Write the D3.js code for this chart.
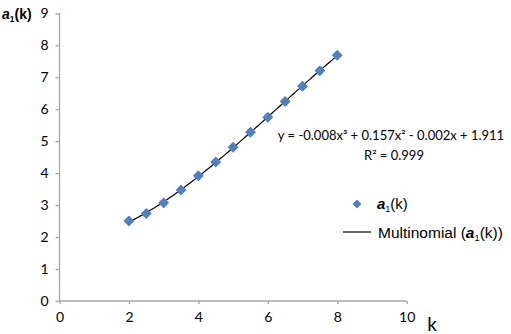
<!DOCTYPE html>
<html><head><meta charset="utf-8">
<script src="https://cdn.jsdelivr.net/npm/d3@7"></script>
<style>body{margin:0;background:#fff}svg{display:block}</style>
</head><body>
<script>
const kValues = [2, 2.5, 3, 3.5, 4, 4.5, 5, 5.5, 6, 6.5, 7, 7.5, 8];
const a1Values = [2.50, 2.74, 3.07, 3.47, 3.92, 4.35, 4.81, 5.28, 5.75, 6.24, 6.72, 7.20, 7.69];
const xTicks = [0, 2, 4, 6, 8, 10];
const yTicks = [0, 1, 2, 3, 4, 5, 6, 7, 8, 9];
const equationText = "y = -0.008x\u00B3 + 0.157x\u00B2 - 0.002x + 1.911";
const r2Text = "R\u00B2 = 0.999";

const W = 511, H = 334;
const svg = d3.select("body").append("svg").attr("width", W).attr("height", H);
const x = d3.scaleLinear().domain([0, 10]).range([59.5, 406.7]);
const y = d3.scaleLinear().domain([0, 9]).range([301, 13.3]);
const axisColor = "#a6a6a6";
const tickFont = "Lato, 'Open Sans', sans-serif";

const gy = svg.append("g").attr("transform", `translate(${x(0)},0)`)
  .call(d3.axisLeft(y).tickValues(yTicks).tickSize(4).tickPadding(7).tickFormat(d3.format("d")));
const gx = svg.append("g").attr("transform", `translate(0,${y(0)})`)
  .call(d3.axisBottom(x).tickValues(xTicks).tickSize(3).tickPadding(8).tickFormat(d3.format("d")));
[gx, gy].forEach(g => {
  g.select(".domain").attr("stroke", axisColor).attr("stroke-width", 1.3);
  g.selectAll(".tick line").attr("stroke", axisColor).attr("stroke-width", 1.3);
  g.selectAll("text").attr("fill", "#000").style("font-family", tickFont).style("font-size", "14px");
});
gy.select(".domain").attr("d", `M-0,${y(0)}V${y(9)}`);
gx.select(".domain").attr("d", `M${x(0)},0H${x(10)}`);

function fitCubic(xs, ys) {
  const n = 4;
  const A = Array.from({length: n}, () => new Array(n + 1).fill(0));
  xs.forEach((xv, i) => {
    for (let r = 0; r < n; r++) {
      for (let c = 0; c < n; c++) A[r][c] += Math.pow(xv, r + c);
      A[r][n] += ys[i] * Math.pow(xv, r);
    }
  });
  for (let i = 0; i < n; i++) {
    let p = i;
    for (let k = i + 1; k < n; k++) if (Math.abs(A[k][i]) > Math.abs(A[p][i])) p = k;
    [A[i], A[p]] = [A[p], A[i]];
    for (let k = i + 1; k < n; k++) {
      const f = A[k][i] / A[i][i];
      for (let j = i; j <= n; j++) A[k][j] -= f * A[i][j];
    }
  }
  const c = new Array(n).fill(0);
  for (let i = n - 1; i >= 0; i--) {
    let s = A[i][n];
    for (let j = i + 1; j < n; j++) s -= A[i][j] * c[j];
    c[i] = s / A[i][i];
  }
  return c;
}
const coef = fitCubic(kValues, a1Values);
const poly = t => coef[0] + coef[1] * t + coef[2] * t * t + coef[3] * t * t * t;
const trend = d3.range(kValues[0], kValues[kValues.length - 1] + 0.001, 0.05).map(t => [t, poly(t)]);

svg.append("path").datum(trend)
  .attr("d", d3.line().x(d => x(d[0])).y(d => y(d[1])))
  .attr("fill", "none").attr("stroke", "#000").attr("stroke-width", 1.2);

svg.append("g").selectAll("path").data(kValues).join("path")
  .attr("d", d3.symbol().type(d3.symbolSquare).size(60))
  .attr("transform", (d, i) => `translate(${x(d)},${y(a1Values[i])}) rotate(45)`)
  .attr("fill", "#4f81bd");

const eqFont = "Lato, 'Open Sans', sans-serif";
svg.append("text").attr("x", 391).attr("y", 140).attr("text-anchor", "middle")
  .style("font-family", eqFont).style("font-size", "13px").text(equationText);
svg.append("text").attr("x", 394).attr("y", 160).attr("text-anchor", "middle")
  .style("font-family", eqFont).style("font-size", "13px").text(r2Text);

function a1Label(sel, xPos, yPos, size, prefix, suffix, bold) {
  const t = sel.append("text").attr("x", xPos).attr("y", yPos)
    .style("font-family", "'Liberation Sans', Arial, sans-serif").style("font-size", size + "px")
    .style("font-weight", bold ? "bold" : "normal");
  if (prefix) t.append("tspan").text(prefix);
  t.append("tspan").style("font-style", "italic").style("font-weight", "bold").text("a");
  t.append("tspan").attr("dy", 3).style("font-size", (size * 0.6) + "px").text("1");
  t.append("tspan").attr("dy", -3).style("font-weight", bold ? "bold" : "normal").text("(k)" + (suffix || ""));
  return t;
}
a1Label(svg, 2, 19, 14, null, null, true);

svg.append("text").attr("x", 432).attr("y", 331).attr("text-anchor", "middle")
  .style("font-family", tickFont).style("font-size", "19px").text("k");

svg.append("path").attr("d", d3.symbol().type(d3.symbolSquare).size(40))
  .attr("transform", "translate(357,204) rotate(45)").attr("fill", "#4f81bd");
a1Label(svg, 377, 209, 15, null, null, false);
svg.append("line").attr("x1", 343).attr("x2", 371).attr("y1", 232).attr("y2", 232)
  .attr("stroke", "#000").attr("stroke-width", 1.2);
a1Label(svg, 378, 238, 15.5, "Multinomial (", ")", false);
</script>
</body></html>
